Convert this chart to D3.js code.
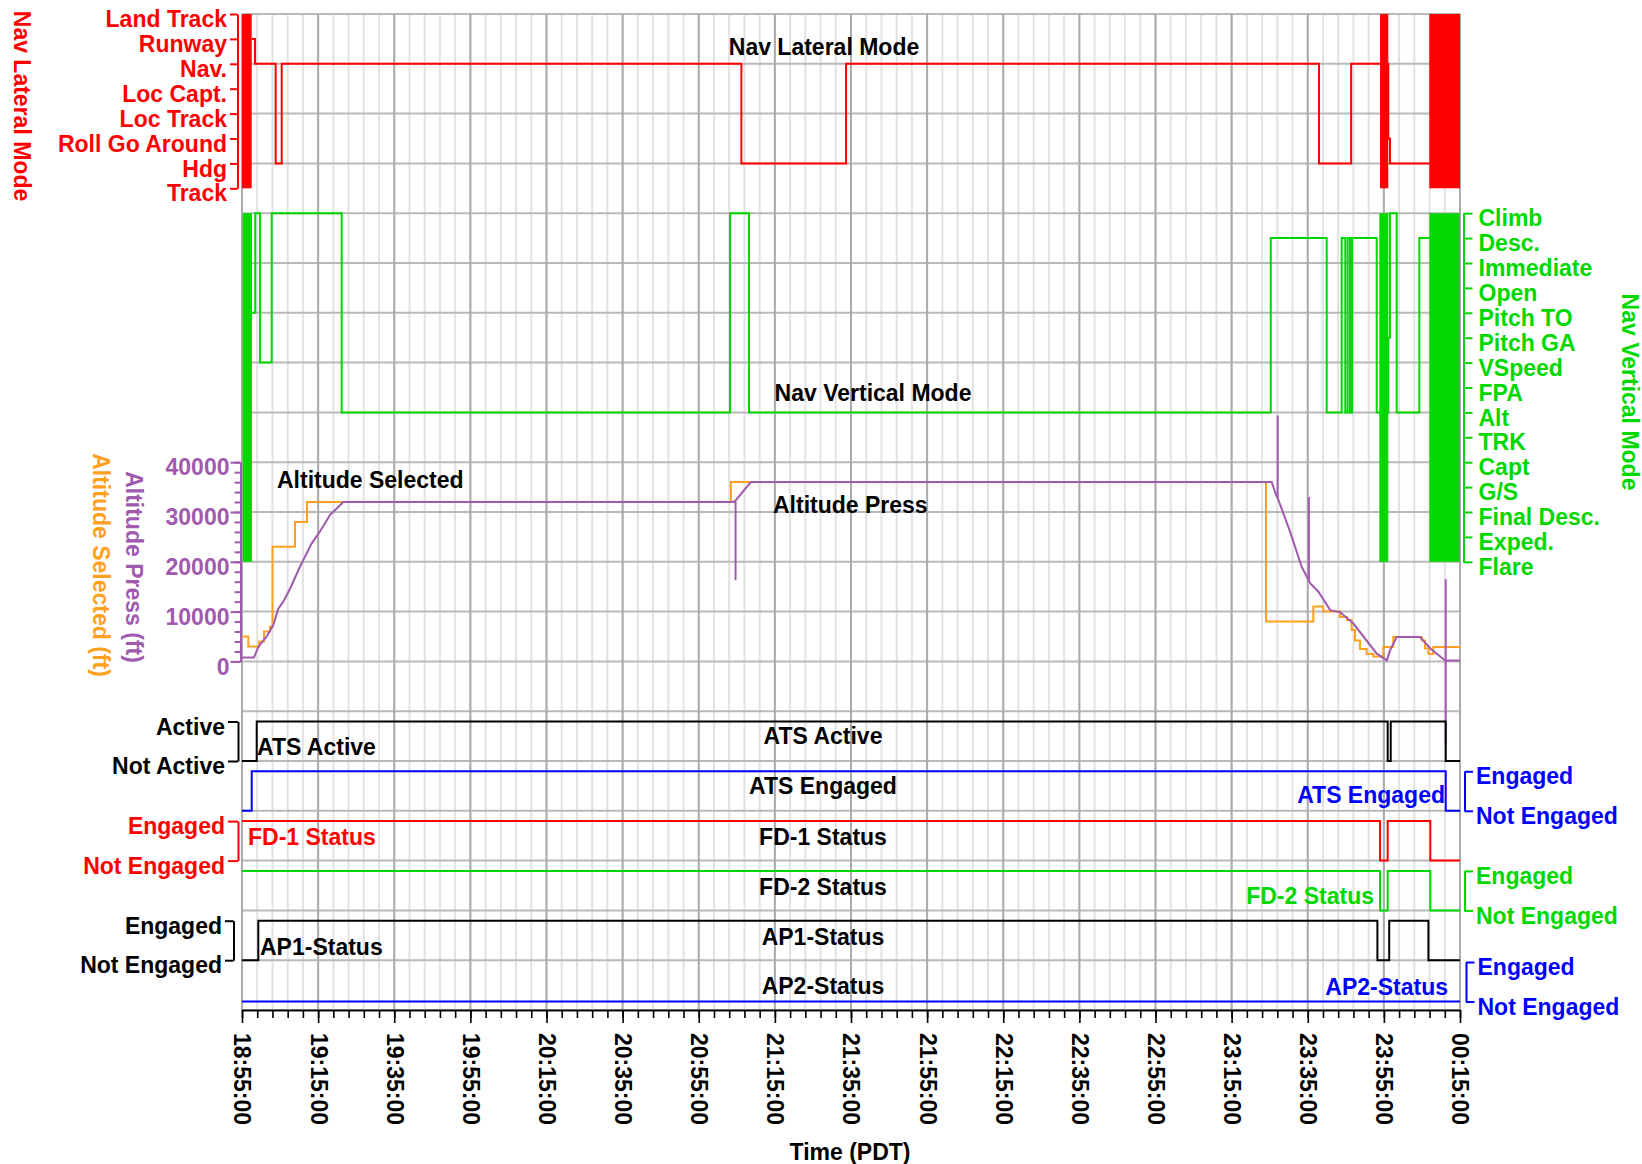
<!DOCTYPE html>
<html>
<head>
<meta charset="utf-8">
<title>Flight mode timeline</title>
<script src="https://cdn.jsdelivr.net/npm/d3@7"></script>
<style>
  body { margin: 0; background: #fff; }
  svg text { font-family: 'Liberation Sans', Arial, sans-serif; font-weight: bold; font-size: 23px; }
  .grid-minor { stroke: #e2e2e2; stroke-width: 2; }
  .grid-major { stroke: #ababab; stroke-width: 2; }
  .grid-row { stroke: #b9b9b9; stroke-width: 2; }
  .trace { fill: none; stroke-width: 2; }
</style>
</head>
<body>
<div id="chart"></div>
<script>
// ---------- data ----------
const xTickLabels = ["18:55:00","19:15:00","19:35:00","19:55:00","20:15:00","20:35:00","20:55:00","21:15:00",
  "21:35:00","21:55:00","22:15:00","22:35:00","22:55:00","23:15:00","23:35:00","23:55:00","00:15:00"];

const lateralModes = ["Land Track","Runway","Nav.","Loc Capt.","Loc Track","Roll Go Around","Hdg","Track"];
const verticalModes = ["Climb","Desc.","Immediate","Open","Pitch TO","Pitch GA","VSpeed","FPA","Alt","TRK",
  "Capt","G/S","Final Desc.","Exped.","Flare"];

// [time, mode]
const lateralSteps = [["18:57:33","Runway"],["18:58:25","Nav."],["19:03:51","Hdg"],["19:05:26","Nav."],
  ["21:06:12","Hdg"],["21:33:42","Nav."],["23:37:58","Hdg"],["23:46:24","Nav."],["23:56:10","Roll Go Around"],
  ["23:56:36","Hdg"],["00:15:00","Hdg"]];
// periods of rapid toggling across all modes [start, end]
const lateralBursts = [["18:55:00","18:57:33"],["23:54:00","23:56:10"],["00:06:56","00:15:00"]];

const verticalSteps = [["18:57:37","Pitch TO"],["18:58:29","Climb"],["18:59:44","VSpeed"],["19:02:48","Climb"],
  ["19:21:11","Alt"],["21:03:13","Climb"],["21:08:12","Alt"],["23:25:17","Desc."],["23:39:59","Alt"],
  ["23:43:55","Desc."],["23:44:52","Alt"],["23:45:30","Desc."],["23:46:06","Alt"],["23:46:38","Desc."],
  ["23:53:07","Alt"],["23:56:10","Pitch GA"],["23:56:36","Climb"],["23:58:22","Alt"],["00:04:19","Desc."],
  ["00:15:00","Desc."]];
const verticalBursts = [["18:55:11","18:57:37"],["23:53:48","23:56:10"],["00:06:56","00:15:00"]];

// [time, ft]
const altSelected = [["18:55:00",5000],["18:56:39",3000],["18:59:28",4000],["19:00:47",6000],["19:02:21",7000],
  ["19:03:01",23000],["19:08:55",28000],["19:12:05",32000],["21:03:27",36000],["23:24:02",8000],
  ["23:36:28",11000],["23:39:05",10000],["23:43:28",8900],["23:45:18",8300],["23:46:32",6300],["23:47:24",4200],
  ["23:48:43",2500],["23:50:28",1500],["23:52:13",1000],["23:54:51",2900],["23:57:28",4900],["00:04:56",4200],
  ["00:05:48",2600],["00:06:42",1500],["00:07:59",2900],["00:15:00",2900]];

const altPress = [["18:55:00",800],["18:58:09",800],["18:59:17",2900],["19:01:29",5000],["19:03:13",7300],
  ["19:04:32",10600],["19:05:51",12000],["19:07:37",14600],["19:10:14",19000],["19:13:19",23700],
  ["19:15:29",26100],["19:18:07",29400],["19:21:37",32000],["21:04:09",32000],["21:04:40",32300],
  ["21:04:40",16300],["21:04:40",32300],["21:08:40",36000],["23:25:32",36000],["23:26:50",33100],
  ["23:27:06",32800],["23:27:06",49400],["23:27:06",32800],["23:30:20",26100],["23:33:24",19000],
  ["23:35:18",16200],["23:35:18",33000],["23:35:18",16200],["23:35:36",15700],["23:37:48",14000],
  ["23:40:54",10300],["23:43:28",9900],["23:47:00",7600],["23:53:07",1550],["23:55:48",200],["23:56:36",2200],
  ["23:58:22",4900],["00:04:30",4900],["00:07:12",2600],["00:11:06",200],["00:11:15",200],["00:11:15",16500],
  ["00:11:15",-16500],["00:11:15",200],["00:15:00",200]];

// [time, 0 = off / 1 = on]
const atsActive = [["18:55:00",0],["18:58:52",1],["23:56:00",0],["23:56:48",1],["00:11:15",0],["00:15:00",0]];
const atsEngaged = [["18:55:00",0],["18:57:33",1],["00:11:15",0],["00:15:00",0]];
const fd1Status = [["18:55:00",1],["23:54:00",0],["23:56:00",1],["00:07:12",0],["00:15:00",0]];
const fd2Status = [["18:55:00",1],["23:54:00",0],["23:56:00",1],["00:07:12",0],["00:15:00",0]];
const ap1Status = [["18:55:00",0],["18:59:17",1],["23:53:18",0],["23:56:24",1],["00:06:42",0],["00:15:00",0]];
const ap2Status = [["18:55:00",0],["00:15:00",0]];

// ---------- helpers ----------
const parseClock = d3.timeParse("%H:%M:%S");
function toDate(s) {
  const d = parseClock(s);
  d.setFullYear(2000, 0, d.getHours() < 12 ? 2 : 1);   // after midnight -> next day
  return d;
}

const W = 1642, H = 1164;
const plotL = 242, plotR = 1460, plotT = 14, plotB = 1010;
const LABEL_DY = "0.55em";

const svg = d3.select("#chart").append("svg")
  .attr("width", W).attr("height", H)
  .style("background", "#fff");

const startT = toDate(xTickLabels[0]), endT = toDate(xTickLabels[xTickLabels.length - 1]);
const x = d3.scaleTime().domain([startT, endT]).range([plotL, plotR]);
// 20 grid rows over the whole plot
const row = d3.scaleLinear().domain([0, 20]).range([plotT, plotB]);

// ---------- grid ----------
const minorTimes = d3.range(0, 321, 4).map(m => d3.timeMinute.offset(startT, m));
const majorTimes = xTickLabels.map(toDate);
const grid = svg.append("g");
grid.selectAll(".grid-minor").data(minorTimes).join("line")
  .attr("class", "grid-minor")
  .attr("x1", d => x(d)).attr("x2", d => x(d)).attr("y1", plotT).attr("y2", plotB);
grid.selectAll(".grid-row").data(d3.range(0, 21)).join("line")
  .attr("class", "grid-row")
  .attr("x1", plotL).attr("x2", plotR).attr("y1", d => row(d)).attr("y2", d => row(d));
grid.selectAll(".grid-major").data(majorTimes).join("line")
  .attr("class", "grid-major")
  .attr("x1", d => x(d)).attr("x2", d => x(d)).attr("y1", plotT).attr("y2", plotB);

// ---------- mode panels ----------
const RED = "#ff0000", GREEN = "#00d800", PURPLE = "#a05aae", ORANGE = "#ffa11e", BLUE = "#0000ff";

const yLat = d3.scalePoint().domain(lateralModes).range([row(0), row(3.5)]);
const yVert = d3.scalePoint().domain(verticalModes).range([row(4), row(11)]);

function drawModes(steps, bursts, yScale, modes, color) {
  svg.append("path")
    .datum(steps)
    .attr("class", "trace")
    .attr("stroke", color)
    .attr("d", d3.line().curve(d3.curveStepAfter)
      .x(d => x(toDate(d[0]))).y(d => yScale(d[1])));
  svg.append("g").selectAll("rect").data(bursts).join("rect")
    .attr("x", d => x(toDate(d[0])))
    .attr("width", d => x(toDate(d[1])) - x(toDate(d[0])))
    .attr("y", yScale(modes[0]))
    .attr("height", yScale(modes[modes.length - 1]) - yScale(modes[0]))
    .attr("fill", color);
}
drawModes(lateralSteps, lateralBursts, yLat, lateralModes, RED);
drawModes(verticalSteps, verticalBursts, yVert, verticalModes, GREEN);

// ---------- altitude ----------
const yAlt = d3.scaleLinear().domain([0, 40000]).range([row(13), row(9)]);
svg.append("path")
  .datum(altSelected)
  .attr("class", "trace").attr("stroke", ORANGE)
  .attr("d", d3.line().curve(d3.curveStepAfter).x(d => x(toDate(d[0]))).y(d => yAlt(d[1])));
svg.append("path")
  .datum(altPress)
  .attr("class", "trace").attr("stroke", PURPLE).attr("stroke-width", 2.6)
  .attr("d", d3.line().x(d => x(toDate(d[0]))).y(d => yAlt(d[1])));

// ---------- on/off channels ----------
const channels = [
  { data: atsActive, color: "#000", low: row(15), labels: ["Active", "Not Active"], side: "left", ax: 238, tick: 10 },
  { data: atsEngaged, color: BLUE, low: row(16), labels: ["Engaged", "Not Engaged"], side: "right", ax: 1464.5, tick: 8.5 },
  { data: fd1Status, color: RED, low: row(17), labels: ["Engaged", "Not Engaged"], side: "left", ax: 238, tick: 10 },
  { data: fd2Status, color: GREEN, low: row(18), labels: ["Engaged", "Not Engaged"], side: "right", ax: 1464.5, tick: 8.5 },
  { data: ap1Status, color: "#000", low: row(19), labels: ["Engaged", "Not Engaged"], side: "left", ax: 233.5, tick: 8.5 },
  { data: ap2Status, color: BLUE, low: row(19.83), labels: ["Engaged", "Not Engaged"], side: "right", ax: 1466, tick: 8.5 }
];
const onHeight = 39.5;

// ---------- axes ----------
function styleAxis(g, color, sw) {
  g.attr("color", color).attr("font-family", null).attr("font-size", null);
  g.selectAll("line,path").attr("stroke-width", sw);
}

channels.forEach(c => {
  const yb = d3.scaleLinear().domain([0, 1]).range([c.low, c.low - onHeight]);
  svg.append("path")
    .datum(c.data)
    .attr("class", "trace").attr("stroke", c.color)
    .attr("d", d3.line().curve(d3.curveStepAfter).x(d => x(toDate(d[0]))).y(d => yb(d[1])));

  const yl = d3.scalePoint().domain(c.labels).range([c.low - onHeight, c.low]);
  const axis = (c.side === "left" ? d3.axisLeft(yl) : d3.axisRight(yl))
    .tickSize(c.tick).tickSizeOuter(0).tickPadding(3);
  svg.append("g")
    .attr("transform", `translate(${c.ax},0)`)
    .call(axis)
    .call(g => styleAxis(g, c.color, 2))
    .call(g => g.selectAll("text").attr("dy", LABEL_DY));
});

svg.append("g").attr("transform", "translate(237.5,0)")
  .call(d3.axisLeft(yLat).tickSize(7.5).tickSizeOuter(0).tickPadding(3))
  .call(g => styleAxis(g, RED, 2))
  .call(g => g.selectAll("text").attr("dy", LABEL_DY));

svg.append("g").attr("transform", "translate(1463.5,0)")
  .call(d3.axisRight(yVert).tickSize(9).tickSizeOuter(0).tickPadding(6))
  .call(g => styleAxis(g, GREEN, 2))
  .call(g => g.selectAll("text").attr("dy", LABEL_DY));

svg.append("g").attr("transform", "translate(240.5,0)")
  .call(d3.axisLeft(yAlt).tickValues(d3.range(0, 40001, 2000)).tickSize(6).tickSizeOuter(0).tickFormat(""))
  .call(g => styleAxis(g, PURPLE, 2));
svg.append("g").attr("transform", "translate(240.5,0)")
  .call(d3.axisLeft(yAlt).tickValues(d3.range(0, 40001, 10000)).tickSize(10).tickSizeOuter(0).tickPadding(1)
    .tickFormat(d3.format("d")))
  .call(g => styleAxis(g, PURPLE, 2))
  .call(g => g.selectAll("text").attr("dy", LABEL_DY));

svg.append("g").attr("transform", `translate(0,${plotB})`)
  .call(d3.axisBottom(x).tickValues(minorTimes).tickSize(8).tickSizeOuter(0).tickFormat(""))
  .call(g => styleAxis(g, "#000", 1.6));
svg.append("g").attr("transform", `translate(0,${plotB})`)
  .call(d3.axisBottom(x).tickValues(majorTimes).tickSize(13).tickSizeOuter(0).tickFormat(d3.timeFormat("%H:%M:%S")))
  .call(g => styleAxis(g, "#000", 1.6))
  .call(g => g.selectAll("text")
    .attr("y", 0).attr("x", 23).attr("dy", "0.35em")
    .attr("transform", "rotate(90)")
    .style("text-anchor", "start"));

// ---------- titles & annotations ----------
function label(txt, px, py, color, anchor, rot) {
  svg.append("text")
    .attr("transform", `translate(${px},${py})` + (rot ? " rotate(90)" : ""))
    .attr("dy", "0.35em")
    .attr("text-anchor", anchor || "middle")
    .attr("fill", color || "#000")
    .text(txt);
}
label("Nav Lateral Mode", 22, 106, RED, "middle", true);
label("Nav Vertical Mode", 1630, 392, GREEN, "middle", true);
label("Altitude Press (ft)", 134, 567, PURPLE, "middle", true);
label("Altitude Selected (ft)", 101, 565, ORANGE, "middle", true);
label("Time (PDT)", 850, 1152);

label("Nav Lateral Mode", 824, 47);
label("Nav Vertical Mode", 873, 393);
label("Altitude Selected", 277, 480, "#000", "start");
label("Altitude Press", 773, 505, "#000", "start");

label("ATS Active", 257, 747, "#000", "start");
label("ATS Active", 823, 736);
label("ATS Engaged", 823, 786);
label("ATS Engaged", 1445, 795, BLUE, "end");
label("FD-1 Status", 248, 837, RED, "start");
label("FD-1 Status", 823, 837);
label("FD-2 Status", 823, 887);
label("FD-2 Status", 1374, 896, GREEN, "end");
label("AP1-Status", 260, 947, "#000", "start");
label("AP1-Status", 823, 937);
label("AP2-Status", 823, 986);
label("AP2-Status", 1448, 987, BLUE, "end");
</script>
</body>
</html>
